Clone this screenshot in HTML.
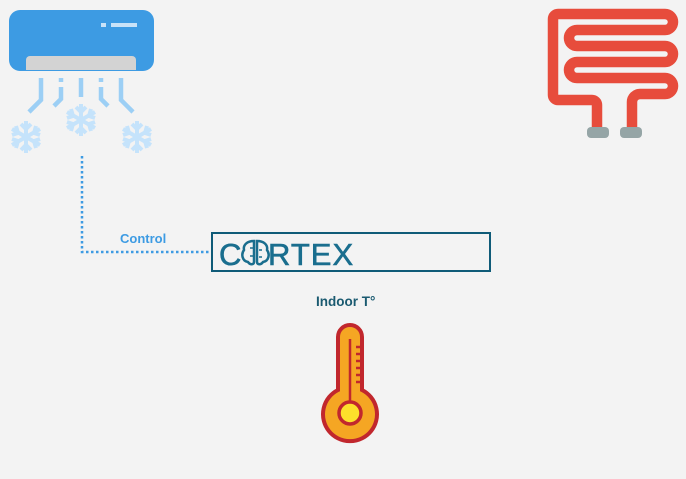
<!DOCTYPE html>
<html><head><meta charset="utf-8"><style>
html,body{margin:0;padding:0;background:#f3f3f3;}
svg{display:block;}
</style></head><body>
<svg width="686" height="479" viewBox="0 0 686 479" xmlns="http://www.w3.org/2000/svg">
<rect width="686" height="479" fill="#f3f3f3"/>
<!-- AC -->
<rect x="9" y="10" width="145" height="61" rx="11" fill="#3d9be3"/>
<path d="M26 70 V60 a4 4 0 0 1 4 -4 H132 a4 4 0 0 1 4 4 V70 Z" fill="#d3d3d3"/>
<rect x="101" y="23" width="5" height="4" fill="#c8e2f8"/>
<rect x="111" y="23" width="26" height="4" fill="#c8e2f8"/>
<g stroke="#9ccff5" stroke-width="4.5" fill="none">
<path d="M41 78 V100 L29 112"/>
<path d="M61 78 V82 M61 87 V99 L54 106"/>
<path d="M81 78 V97"/>
<path d="M101 78 V82 M101 87 V99 L108 106"/>
<path d="M121 78 V100 L133 112"/>
</g>
<g stroke="#c5e3fb" stroke-width="4" fill="none">
<g transform="translate(26,137)"><path d="M0 -16V16M-14 -8L14 8M-14 8L14 -8"/><path d="M-5 -13 L0 -8 L5 -13 M-5 13 L0 8 L5 13 M-14 -2 L-8 -4 L-10 -11 M14 -2 L8 -4 L10 -11 M-14 2 L-8 4 L-10 11 M14 2 L8 4 L10 11"/></g>
<g transform="translate(81,120)"><path d="M0 -16V16M-14 -8L14 8M-14 8L14 -8"/><path d="M-5 -13 L0 -8 L5 -13 M-5 13 L0 8 L5 13 M-14 -2 L-8 -4 L-10 -11 M14 -2 L8 -4 L10 -11 M-14 2 L-8 4 L-10 11 M14 2 L8 4 L10 11"/></g>
<g transform="translate(137,137)"><path d="M0 -16V16M-14 -8L14 8M-14 8L14 -8"/><path d="M-5 -13 L0 -8 L5 -13 M-5 13 L0 8 L5 13 M-14 -2 L-8 -4 L-10 -11 M14 -2 L8 -4 L10 -11 M-14 2 L-8 4 L-10 11 M14 2 L8 4 L10 11"/></g>
</g>
<!-- dotted connector -->
<path d="M82 156 V252 H211" stroke="#3d9be3" stroke-width="2.5" stroke-dasharray="2.5 2.5" fill="none"/>
<text x="120" y="243" font-family="Liberation Sans, sans-serif" font-weight="bold" font-size="13" fill="#3d9be3">Control</text>
<!-- cortex box -->
<rect x="212" y="233" width="278" height="38" fill="none" stroke="#0f5b78" stroke-width="2"/>
<text x="219" y="265" font-family="Liberation Sans, sans-serif" font-size="31" fill="#1a6e8e" letter-spacing="1" stroke="#1a6e8e" stroke-width="0.6">C</text>
<g stroke="#1a6e8e" stroke-width="2.5" fill="none">
<path d="M254 241 c-7 0 -11 4 -10 9 c-3 4 -2 11 4 12 c2 3 6 3 6 0 Z"/>
<path d="M257 241 c7 0 11 4 10 9 c3 4 2 11 -4 12 c-2 3 -6 3 -6 0 Z"/>
<path d="M250 248 h3 M250 256 h3 M259 250 h3 M259 257 h3" stroke-width="1.5"/>
</g>
<text x="268" y="265" font-family="Liberation Sans, sans-serif" font-size="31" fill="#1a6e8e" letter-spacing="1" stroke="#1a6e8e" stroke-width="0.6">RTEX</text>
<text x="316" y="306" font-family="Liberation Sans, sans-serif" font-weight="bold" font-size="13.5" fill="#1a5a70">Indoor T°</text>
<!-- thermometer -->
<path d="M338 337 a12 12 0 0 1 24 0 V390 a27 27 0 1 1 -24 0 Z" fill="#f5a623" stroke="#c1272d" stroke-width="4"/>
<path d="M350 339 V402" stroke="#c1272d" stroke-width="2.5"/>
<g stroke="#c1272d" stroke-width="2.5"><path d="M356 347h5M356 354h5M356 361h5M356 368h5M356 375h5M356 382h5"/></g>
<circle cx="350" cy="413" r="11" fill="#fde02b" stroke="#c1272d" stroke-width="3.5"/>
<!-- heater -->
<path d="M597 128 V105 a5 5 0 0 0 -5 -5 H558 a5 5 0 0 1 -5 -5 V19 a5 5 0 0 1 5 -5 H665 a8 8 0 0 1 0 16 H577 a8 8 0 0 0 0 16 H665 a8 8 0 0 1 0 16 H577 a8 8 0 0 0 0 16 H665 a8 8 0 0 1 0 16 H640 a8 8 0 0 0 -8 8 V128" stroke="#e74c3c" stroke-width="10.5" fill="none" stroke-linejoin="round"/>
<rect x="587" y="127" width="22" height="11" rx="4" fill="#95a5a6"/>
<rect x="620" y="127" width="22" height="11" rx="4" fill="#95a5a6"/>
</svg>
</body></html>
